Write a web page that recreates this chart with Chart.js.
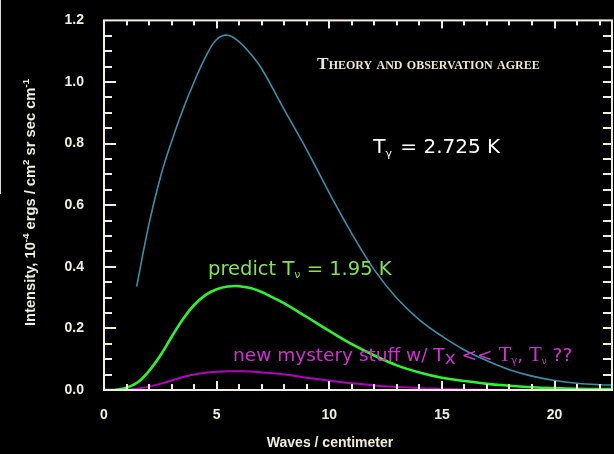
<!DOCTYPE html>
<html>
<head>
<meta charset="utf-8">
<script src="https://cdn.jsdelivr.net/npm/chart.js@4.4.1/dist/chart.umd.min.js"></script>
<style>
  html, body { margin: 0; padding: 0; background: #000; }
  #wrap { width: 614px; height: 454px; }
</style>
</head>
<body>
<div id="wrap"><canvas id="chart"></canvas></div>
<script>
// Waves per centimeter for the neutrino and mystery curves
const waveNumbers = [0, 0.5, 1, 1.5, 2, 2.5, 3, 3.5, 4, 4.5, 5, 5.5, 6, 6.5, 7, 7.5, 8, 9, 10, 11, 12, 13, 14, 15, 16, 17, 18, 19, 20, 21, 22, 22.55];
const neutrinoIntensity = [0, 0.001, 0.007, 0.025, 0.062, 0.112, 0.172, 0.230, 0.276, 0.308, 0.327, 0.336, 0.337, 0.331, 0.318, 0.300, 0.281, 0.237, 0.192, 0.149, 0.112, 0.080, 0.057, 0.040, 0.029, 0.020, 0.014, 0.009, 0.006, 0.004, 0.003, 0.003];
const mysteryIntensity = [0, 0, 0.001, 0.005, 0.011, 0.020, 0.031, 0.042, 0.050, 0.056, 0.059, 0.061, 0.061, 0.060, 0.057, 0.054, 0.050, 0.040, 0.030, 0.022, 0.015, 0.010, 0.006, 0.004, 0.002, 0.001, 0.001, 0, 0, 0, 0, 0];

// The measured CMB curve starts a little above 1 wave/cm
const cmbWaveNumbers = [1.45, 2, 2.5, 3, 3.5, 4, 4.5, 5, 5.5, 6, 6.5, 7, 8, 9, 10, 11, 12, 13, 14, 15, 16, 17, 18, 19, 20, 21, 22, 22.55];
const cmbIntensity = [0.336, 0.54, 0.69, 0.807, 0.910, 1.000, 1.080, 1.138, 1.152, 1.130, 1.092, 1.043, 0.910, 0.780, 0.640, 0.508, 0.390, 0.298, 0.228, 0.175, 0.130, 0.095, 0.066, 0.045, 0.031, 0.022, 0.017, 0.016];

const xTickLabels = [0, 5, 10, 15, 20];
const xMinorTicks = [1, 2, 3, 4, 5, 6, 7, 8, 9, 10, 11, 12, 13, 14, 15, 16, 17, 18, 19, 20, 21, 22];
const yTickLabels = [0, 0.2, 0.4, 0.6, 0.8, 1.0, 1.2];
const yMinorTicks = [0.05, 0.1, 0.15, 0.2, 0.25, 0.3, 0.35, 0.4, 0.45, 0.5, 0.55, 0.6, 0.65, 0.7, 0.75, 0.8, 0.85, 0.9, 0.95, 1.0, 1.05, 1.1, 1.15];

const AXIS_COLOR = '#f1eedd';
const SANS = '"Liberation Sans", Arial, sans-serif';

function toPoints(xs, ys) {
    return xs.map((x, i) => ({ x: x, y: ys[i] }));
}

// Draw a row of text pieces one after another (for sub/superscripts)
function drawRuns(ctx, runs, x, y) {
    let cx = x;
    runs.forEach(r => {
        ctx.font = r.font;
        ctx.fillStyle = r.color;
        ctx.fillText(r.text, cx, y + (r.dy || 0));
        cx += ctx.measureText(r.text).width + (r.gap || 0);
    });
}

// Frame, inward tick marks, axis titles and the slide annotations
const decorPlugin = {
    id: 'decor',
    afterDraw(chart) {
        const ctx = chart.ctx;
        const xs = chart.scales.x;
        const ys = chart.scales.y;
        const a = chart.chartArea;

        ctx.save();
        ctx.strokeStyle = AXIS_COLOR;
        ctx.lineWidth = 2;
        ctx.strokeRect(a.left, a.top, a.right - a.left, a.bottom - a.top);

        // tick marks pointing into the plot
        ctx.fillStyle = AXIS_COLOR;
        xMinorTicks.forEach(v => {
            const tx = Math.round(xs.getPixelForValue(v));
            const len = v % 5 === 0 ? 9 : 6;
            ctx.fillRect(tx - 1, a.bottom - len, 2, len);
            ctx.fillRect(tx - 1, a.top, 2, len - 1);
        });
        yMinorTicks.forEach((v, i) => {
            const ty = Math.round(ys.getPixelForValue(v));
            const len = (i + 1) % 4 === 0 ? 12 : 8;
            ctx.fillRect(a.left, ty - 1, len, 2);
            ctx.fillRect(a.right - 9, ty - 1, 9, 2);
        });

        // leftover slide frame on the far left
        ctx.fillStyle = '#d8d8d8';
        ctx.fillRect(0, 0, 1, 194);

        ctx.textBaseline = 'alphabetic';

        // x axis title
        ctx.font = 'bold 14px ' + SANS;
        ctx.fillStyle = AXIS_COLOR;
        ctx.textAlign = 'center';
        ctx.fillText('Waves / centimeter', 330, 447);

        // y axis title, rotated
        ctx.textAlign = 'left';
        ctx.save();
        ctx.translate(35, 326);
        ctx.rotate(-Math.PI / 2);
        const tf = 'bold 14.7px ' + SANS;
        const sf = 'bold 9.8px ' + SANS;
        drawRuns(ctx, [
            { text: 'Intensity, 10', font: tf, color: AXIS_COLOR },
            { text: '-4', font: sf, color: AXIS_COLOR, dy: -6 },
            { text: ' ergs / cm', font: tf, color: AXIS_COLOR },
            { text: '2', font: sf, color: AXIS_COLOR, dy: -6 },
            { text: ' sr sec cm', font: tf, color: AXIS_COLOR },
            { text: '-1', font: sf, color: AXIS_COLOR, dy: -6 }
        ], 0, 0);
        ctx.restore();

        // annotations, anchored in data units
        const at = (x, y) => [xs.getPixelForValue(x), ys.getPixelForValue(y)];

        let [px, py] = at(9.46, 1.041);
        ctx.font = 'small-caps 600 17.3px "Liberation Serif", serif';
        ctx.fillStyle = '#eee7cc';
        ctx.fillText('Theory and observation agree', px, py);

        [px, py] = at(11.95, 0.768);
        drawRuns(ctx, [
            { text: 'T', font: '20px "DejaVu Sans"', color: '#ffffff' },
            { text: 'γ', font: '11px "DejaVu Sans"', color: '#ffffff', dy: 4, gap: 2 },
            { text: ' = 2.725 K', font: '20px "DejaVu Sans"', color: '#ffffff' }
        ], px, py);

        [px, py] = at(4.62, 0.372);
        const gf = '19.5px "DejaVu Sans"';
        drawRuns(ctx, [
            { text: 'predict T', font: gf, color: '#84e34c' },
            { text: 'ν', font: '11px "DejaVu Sans"', color: '#84e34c', dy: 3 },
            { text: ' = 1.95 K', font: gf, color: '#84e34c' }
        ], px, py);

        [px, py] = at(5.73, 0.095);
        const mf = '18.5px "DejaVu Sans"';
        const serif = '21px "Liberation Serif", serif';
        const mc = '#cf33cf';
        drawRuns(ctx, [
            { text: 'new mystery stuff w/ T', font: mf, color: mc },
            { text: 'x', font: mf, color: mc, dy: 3 },
            { text: ' << ', font: mf, color: mc },
            { text: 'T', font: serif, color: mc },
            { text: 'γ', font: '10px "DejaVu Sans"', color: mc, dy: 3 },
            { text: ', ', font: mf, color: mc },
            { text: 'T', font: serif, color: mc },
            { text: 'ν', font: '9px "DejaVu Sans"', color: mc, dy: 3 },
            { text: ' ??', font: mf, color: mc }
        ], px, py);

        ctx.restore();
    }
};

new Chart(document.getElementById('chart'), {
    type: 'line',
    data: {
        datasets: [
            {
                label: 'CMB, 2.725 K',
                data: toPoints(cmbWaveNumbers, cmbIntensity),
                borderColor: '#3b8fa8',
                borderWidth: 1.6
            },
            {
                label: 'Neutrinos, 1.95 K',
                data: toPoints(waveNumbers, neutrinoIntensity),
                borderColor: '#2ff22f',
                borderWidth: 2.6
            },
            {
                label: 'Mystery stuff',
                data: toPoints(waveNumbers, mysteryIntensity),
                borderColor: '#b400c0',
                borderWidth: 2
            }
        ]
    },
    options: {
        responsive: true,
        maintainAspectRatio: false,
        animation: false,
        layout: { padding: { top: 12, right: 2, left: 0, bottom: 0 } },
        elements: {
            point: { radius: 0 },
            line: { tension: 0.4, fill: false }
        },
        plugins: {
            legend: { display: false },
            tooltip: { enabled: false }
        },
        scales: {
            x: {
                type: 'linear',
                min: 0,
                max: 22.55,
                grid: { display: false },
                border: { display: false },
                afterBuildTicks: scale => {
                    scale.ticks = xTickLabels.map(v => ({ value: v }));
                },
                afterFit: scale => { scale.height = 64; },
                ticks: {
                    padding: 9,
                    maxRotation: 0,
                    color: AXIS_COLOR,
                    font: { family: SANS, size: 14, weight: 'bold' }
                }
            },
            y: {
                min: 0,
                max: 1.2,
                grid: { display: false },
                border: { display: false },
                afterBuildTicks: scale => {
                    scale.ticks = yTickLabels.map(v => ({ value: v }));
                },
                afterFit: scale => { scale.width = 104; },
                ticks: {
                    padding: 12,
                    color: AXIS_COLOR,
                    font: { family: SANS, size: 14, weight: 'bold' },
                    callback: v => v.toFixed(1)
                }
            }
        }
    },
    plugins: [decorPlugin]
});
</script>
</body>
</html>
